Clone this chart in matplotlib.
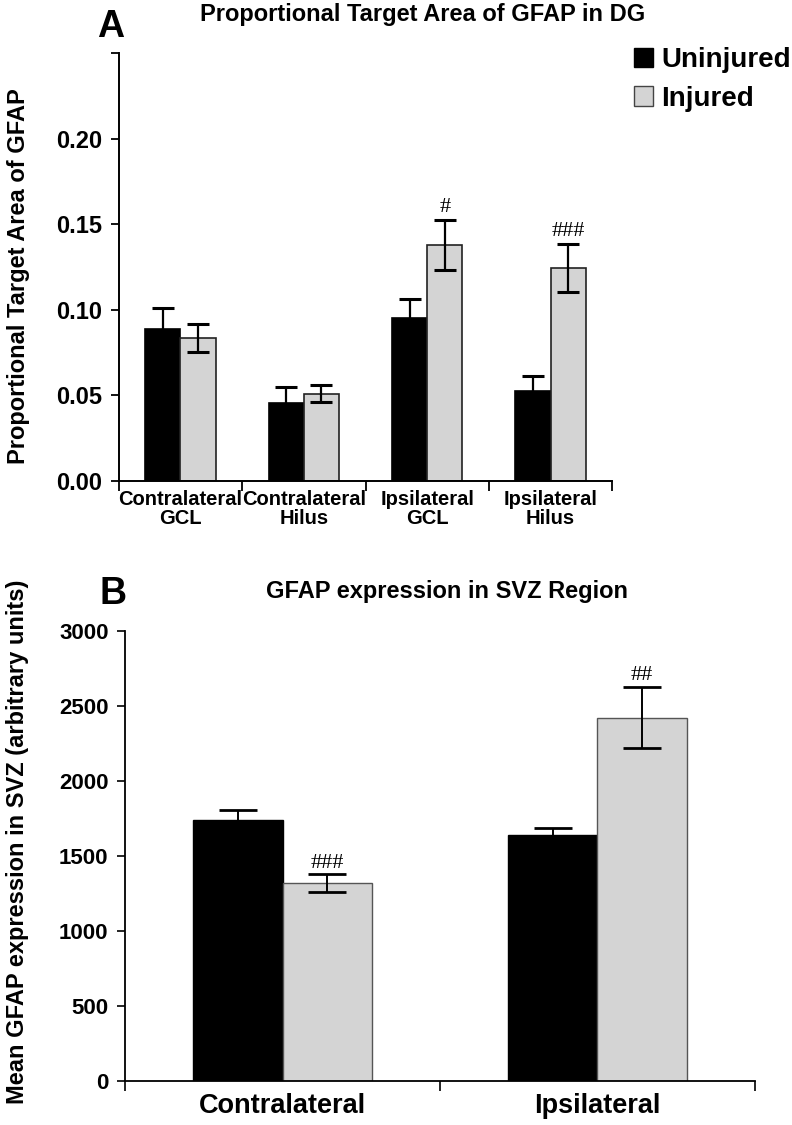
import matplotlib
matplotlib.use("Agg")
import matplotlib.pyplot as plt
import numpy as np
from matplotlib.patches import Patch

plt.rcParams["font.family"] = "Liberation Sans"
plt.rcParams["font.weight"] = "bold"

# Panel A data
regions_a = ["Contralateral\nGCL", "Contralateral\nHilus", "Ipsilateral\nGCL", "Ipsilateral\nHilus"]
uninj_a = [0.089, 0.0455, 0.095, 0.0525]
uninj_a_err = [0.012, 0.0095, 0.011, 0.009]
inj_a = [0.0835, 0.051, 0.138, 0.1245]
inj_a_err = [0.008, 0.005, 0.0145, 0.014]
marks_a = ["", "", "#", "###"]

# Panel B data
regions_b = ["Contralateral", "Ipsilateral"]
uninj_b = [1740, 1635]
uninj_b_err = [65, 47]
inj_b = [1315, 2420]
inj_b_err = [60, 205]
marks_b = ["###", "##"]

black = "#000000"
gray = "#d4d4d4"

fig = plt.figure(figsize=(7.92, 11.25), dpi=100)

# ---- Panel A ----
axa = fig.add_axes([0.150, 0.5727, 0.623, 0.380])
x = np.arange(len(regions_a))
w = 0.285
axa.bar(x - w / 2, uninj_a, w, color=black, edgecolor=black, linewidth=1.2)
axa.bar(x + w / 2, inj_a, w, color=gray, edgecolor="#222222", linewidth=1.2)
axa.errorbar(x - w / 2, uninj_a, yerr=uninj_a_err, fmt="none", ecolor=black,
             elinewidth=1.6, capsize=8, capthick=2.2)
axa.errorbar(x + w / 2, inj_a, yerr=inj_a_err, fmt="none", ecolor=black,
             elinewidth=1.6, capsize=8, capthick=2.2)
for xi, v, e, m in zip(x, inj_a, inj_a_err, marks_a):
    if m:
        axa.text(xi + w / 2, v + e + 0.0015, m, ha="center", va="bottom",
                 fontsize=16, family="Liberation Serif", fontweight="normal")
axa.set_xlim(-0.5, len(regions_a) - 0.5)
axa.set_ylim(0, 0.25)
axa.set_yticks([0, 0.05, 0.10, 0.15, 0.20, 0.25])
axa.set_yticklabels(["0.00", "0.05", "0.10", "0.15", "0.20", ""])
axa.set_xticks(np.arange(-0.5, len(regions_a), 1.0))
axa.set_xticklabels([])
axa.set_xticks(x, minor=True)
axa.set_xticklabels(regions_a, minor=True, fontsize=14.5,
                    fontweight="bold", linespacing=0.95)
axa.tick_params(axis="x", which="minor", length=0, pad=7)
axa.tick_params(axis="x", which="major", direction="out", length=7, width=1.3)
axa.tick_params(axis="y", direction="out", length=6, width=1.3, labelsize=17, pad=6)
for s in ["top", "right"]:
    axa.spines[s].set_visible(False)
for s in ["left", "bottom"]:
    axa.spines[s].set_linewidth(1.4)
axa.set_ylabel("Proportional Target Area of GFAP", fontsize=17, fontweight="bold")
axa.yaxis.set_label_coords(-0.18, 0.478)
fig.text(0.534, 0.9875, "Proportional Target Area of GFAP in DG", ha="center", va="center",
         fontsize=17, fontweight="bold")
fig.text(0.122, 0.992, "A", ha="left", va="top", fontsize=27, fontweight="bold")
handles = [Patch(facecolor=black, edgecolor=black),
           Patch(facecolor=gray, edgecolor="#444444")]
fig.legend(handles, ["Uninjured", "Injured"], loc="upper left",
           bbox_to_anchor=(0.800, 0.958), frameon=False, fontsize=20,
           handlelength=0.7, handleheight=0.7, handletextpad=0.3,
           labelspacing=0.45, borderaxespad=0, borderpad=0)

# ---- Panel B ----
axb = fig.add_axes([0.158, 0.0394, 0.795, 0.400])
xb = np.arange(len(regions_b))
axb.bar(xb - w / 2, uninj_b, w, color=black, edgecolor=black, linewidth=1.0)
axb.bar(xb + w / 2, inj_b, w, color=gray, edgecolor="#555555", linewidth=1.0)
axb.errorbar(xb - w / 2, uninj_b, yerr=uninj_b_err, fmt="none", ecolor=black,
             elinewidth=1.4, capsize=14, capthick=2.0)
axb.errorbar(xb + w / 2, inj_b, yerr=inj_b_err, fmt="none", ecolor=black,
             elinewidth=1.4, capsize=14, capthick=2.0)
for xi, v, e, m in zip(xb, inj_b, inj_b_err, marks_b):
    axb.text(xi + w / 2, v + e + 12, m, ha="center", va="bottom",
             fontsize=16, family="Liberation Serif", fontweight="normal")
axb.set_xlim(-0.5, len(regions_b) - 0.5)
axb.set_ylim(0, 3000)
axb.set_yticks(np.arange(0, 3001, 500))
axb.set_xticks(np.arange(-0.5, len(regions_b), 1.0))
axb.set_xticklabels([])
axb.set_xticks(xb, minor=True)
axb.set_xticklabels(regions_b, minor=True, fontsize=19.5, fontweight="bold")
axb.tick_params(axis="x", which="minor", length=0, pad=9)
axb.tick_params(axis="x", which="major", direction="out", length=7, width=1.2)
axb.tick_params(axis="y", direction="out", length=6, width=1.2, labelsize=16, pad=6)
for s in ["top", "right"]:
    axb.spines[s].set_visible(False)
for s in ["left", "bottom"]:
    axb.spines[s].set_linewidth(1.3)
axb.set_ylabel("Mean GFAP expression in SVZ (arbitrary units)", fontsize=17, fontweight="bold")
axb.yaxis.set_label_coords(-0.153, 0.53)
fig.text(0.564, 0.474, "GFAP expression in SVZ Region", ha="center", va="center",
         fontsize=17, fontweight="bold")
fig.text(0.125, 0.488, "B", ha="left", va="top", fontsize=27, fontweight="bold")

fig.savefig("out.png", dpi=100)
